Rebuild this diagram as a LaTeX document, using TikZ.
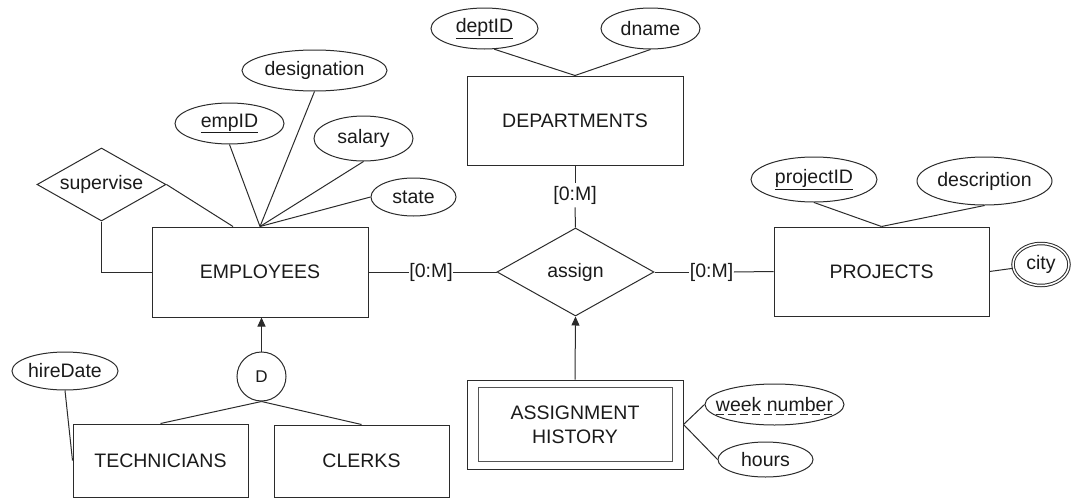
\documentclass[tikz,border=0pt]{standalone}
\usepackage{fontspec}
\setmainfont{Liberation Sans}
\usetikzlibrary{shapes.geometric,arrows.meta}
\definecolor{ln}{HTML}{2B2B2B}
\definecolor{tx}{HTML}{1A1A1A}
\newcommand{\zt}[1]{\makebox[0pt]{#1}}
\begin{document}
\begin{tikzpicture}[x=1pt,y=-1pt,
  every node/.style={text=tx, font=\fontsize{19.5}{24}\selectfont},
  ent/.style={draw=ln, line width=1pt, rectangle, inner sep=0pt},
  attr/.style={draw=ln, line width=1pt, ellipse, inner sep=0pt},
  rel/.style={draw=ln, line width=1pt, diamond, inner sep=0pt, aspect=1.8},
  card/.style={inner xsep=0.5pt, inner ysep=3pt},
  conn/.style={draw=ln, line width=1pt},
  arr/.style={conn, -{Triangle[length=9pt,width=8pt]}}]
\useasboundingbox (0,0) rectangle (1072,498);

% EMPLOYEES and attributes
\node[ent, minimum width=216pt, minimum height=90pt] (emp) at (260,272) {EMPLOYEES};
\node[rel, minimum width=129pt, minimum height=73pt] (sup) at (101.5,184.5) {supervise};
\node[attr, minimum width=109pt, minimum height=41pt] (eid) at (229.5,123.5) {\zt{\underline{empID}}};
\node[attr, minimum width=145pt, minimum height=41pt] (des) at (314.5,70.5) {\zt{designation}};
\node[attr, minimum width=99pt, minimum height=45pt] (sal) at (363.5,138.5) {\zt{salary}};
\node[attr, minimum width=85pt, minimum height=38pt] (sta) at (413.5,197) {\zt{state}};
\draw[conn] (sup.east) -- ([xshift=-27pt]emp.north);
\draw[conn] (sup.south) |- (emp.west);
\draw[conn] (eid.south) -- (emp.north);
\draw[conn] (des.south) -- (emp.north);
\draw[conn] (sal.south) -- (emp.north);
\draw[conn] (sta.west) -- (emp.north);

% DEPARTMENTS
\node[ent, minimum width=216pt, minimum height=89pt] (dep) at (575,120.5) {DEPARTMENTS};
\node[attr, minimum width=107pt, minimum height=41pt] (did) at (484.5,28.5) {\zt{\underline{deptID}}};
\node[attr, minimum width=99pt, minimum height=41pt] (dnm) at (650.5,28.5) {\zt{dname}};
\draw[conn] (did.-65) -- (dep.north);
\draw[conn] (dnm.south) -- (dep.north);

% assign
\node[rel, minimum width=157pt, minimum height=88pt] (asg) at (575.5,272) {assign};
\node[card] (c1) at (431,272) {[0:M]};
\node[card] (c2) at (575,195) {[0:M]};
\node[card] (c3) at (711.5,272) {[0:M]};

% PROJECTS
\node[ent, minimum width=215pt, minimum height=89pt] (prj) at (881.5,271.5) {PROJECTS};
\node[attr, minimum width=126pt, minimum height=45pt] (pid) at (814,179.5) {\zt{\underline{projectID}}};
\node[attr, minimum width=135pt, minimum height=48pt] (dsc) at (984.5,181) {\zt{description}};
\node[attr, double, double distance=1.5pt, minimum width=56pt, minimum height=42pt] (cty) at (1041,264.5) {\zt{city}};
\draw[conn] (pid.south) -- (prj.north);
\draw[conn] (dsc.south) -- (prj.north);
\draw[conn] (prj.east) -- (cty);

\draw[conn] (emp.east) -- (c1.west);
\draw[conn] (c1.east) -- (asg.west);
\draw[conn] (dep.south) -- (c2.north);
\draw[conn] (c2.south) -- (asg.north);
\draw[conn] (asg.east) -- (c3.west);
\draw[conn] (c3.east) -- (prj.west);

% ASSIGNMENT HISTORY
\node[ent, minimum width=216pt, minimum height=89pt, align=center] (ah) at (575,424.5) {ASSIGNMENT\\HISTORY};
\draw[draw=ln!80, line width=1.5pt] ([shift={(12,8)}]ah.north west) rectangle ([shift={(-11,-8)}]ah.south east);
\draw[arr] (ah.north) -- (asg.south);
\node[attr, minimum width=139pt, minimum height=41pt] (wk) at (774.5,404.5) {\zt{week number}};
\draw[conn, dash pattern=on 8pt off 4pt] ([shift={(-59,10)}]wk.center) -- ([shift={(57,10)}]wk.center);
\node[attr, minimum width=95pt, minimum height=35pt] (hr) at (765.5,459.5) {\zt{hours}};
\draw[conn] (ah.east) -- (wk.west);
\draw[conn] (ah.east) -- (hr.west);

% specialization
\node[draw=ln, line width=1pt, circle, minimum size=49pt, inner sep=0pt, font=\fontsize{17}{20}\selectfont] (dd) at (261.5,376.5) {D};
\draw[arr] (dd.north) -- (dd.north |- emp.south);
\node[ent, minimum width=175pt, minimum height=73pt] (tec) at (160.5,460.5) {TECHNICIANS};
\node[ent, minimum width=175pt, minimum height=72pt] (clk) at (361.5,461) {CLERKS};
\draw[conn] (dd.south) -- (tec.north);
\draw[conn] (dd.south) -- (clk.north);
\node[attr, minimum width=106pt, minimum height=38pt] (hd) at (65,371) {\zt{hireDate}};
\draw[conn] (hd.south) -- (tec.west);
\end{tikzpicture}
\end{document}
